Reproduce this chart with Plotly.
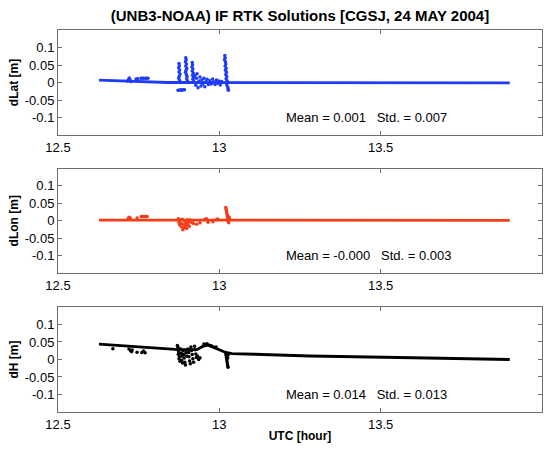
import plotly.graph_objects as go

# ---------------- data ----------------
x_ticks = [12.5, 13, 13.5, 14]
x_tick_labels = ["12.5", "13", "13.5", "14"]
y_ticks = [-0.1, -0.05, 0, 0.05, 0.1]
y_tick_labels = ["-0.1", "-0.05", "0", "0.05", "0.1"]

panel_labels = ["dLat [m]", "dLon [m]", "dH [m]"]
panel_stats = ["Mean = 0.001   Std. = 0.007",
               "Mean = -0.000   Std. = 0.003",
               "Mean = 0.014   Std. = 0.013"]

# dLat: continuous track
dlat_line_t = [12.627, 12.68, 12.72, 12.76, 12.80, 12.84, 12.868, 12.90, 12.95, 13.0, 13.04, 13.06, 13.2, 13.4, 13.6, 13.8, 13.90]
dlat_line_v = [0.007, 0.005, 0.003, 0.002, 0.001, 0.000, 0.000, 0.000, -0.001, -0.002, -0.002, -0.002, -0.002, -0.001, -0.001, -0.001, -0.001]
# dLat: scattered epochs
dlat_pts_t = [12.716, 12.719, 12.721, 12.723, 12.726, 12.742, 12.747, 12.757, 12.761, 12.765, 12.771, 12.775, 12.779,
              12.875, 12.876, 12.874, 12.877, 12.875, 12.878, 12.876, 12.874, 12.877, 12.879,
              12.872, 12.876, 12.880, 12.884, 12.888, 12.892,
              12.896, 12.897, 12.895, 12.898, 12.896, 12.899, 12.897, 12.895, 12.898, 12.900, 12.899, 12.901,
              12.916, 12.917, 12.915, 12.918, 12.916, 12.919, 12.917, 12.920, 12.918, 12.921,
              12.924, 12.927, 12.929, 12.931, 12.934, 12.937, 12.940, 12.943, 12.946, 12.949, 12.952, 12.955, 12.958, 12.962, 12.966,
              12.971, 12.975, 12.979, 12.983, 12.987, 12.991, 12.995, 12.999, 13.003, 13.007,
              13.017, 13.018, 13.016, 13.019, 13.020, 13.018, 13.021, 13.019, 13.022, 13.020, 13.023, 13.021, 13.024, 13.025, 13.023, 13.026, 13.027, 13.028]
dlat_pts_v = [0.004, 0.009, 0.013, 0.008, 0.003, 0.010, 0.011, 0.012, 0.012, 0.012, 0.012, 0.012, 0.012,
              0.054, 0.048, 0.042, 0.036, 0.030, 0.024, 0.018, 0.012, 0.006, 0.000,
              -0.022, -0.022, -0.021, -0.022, -0.021, -0.021,
              0.071, 0.065, 0.059, 0.053, 0.047, 0.041, 0.035, 0.029, 0.023, 0.017, 0.011, 0.005,
              0.057, 0.051, 0.045, 0.039, 0.033, 0.027, 0.021, 0.015, 0.009, 0.003,
              0.020, -0.008, 0.012, 0.025, -0.015, 0.004, 0.016, -0.010, 0.008, -0.004, 0.012, -0.012, 0.002, 0.009, -0.006,
              0.005, -0.004, 0.010, 0.002, -0.006, 0.007, -0.002, 0.004, -0.007, 0.003,
              0.077, 0.071, 0.065, 0.059, 0.053, 0.047, 0.041, 0.035, 0.029, 0.023, 0.017, 0.011, 0.005, -0.001, -0.007, -0.013, -0.018, -0.022]

# dLon
dlon_line_t = [12.627, 12.75, 12.87, 12.95, 13.05, 13.3, 13.6, 13.90]
dlon_line_v = [0.002, 0.002, 0.001, 0.000, 0.001, 0.001, 0.001, 0.001]
dlon_pts_t = [12.717, 12.720, 12.724, 12.745, 12.758, 12.763, 12.768, 12.772, 12.776,
              12.873, 12.875, 12.877, 12.879, 12.881, 12.883, 12.885, 12.887, 12.889, 12.891, 12.893, 12.895, 12.897, 12.899, 12.901, 12.903, 12.905, 12.907, 12.909,
              12.915, 12.920, 12.930, 12.940, 12.955, 12.960, 12.965, 12.980, 12.990, 12.995,
              13.020, 13.021, 13.022, 13.023, 13.024, 13.025, 13.026, 13.027, 13.028, 13.029, 13.026, 13.030, 13.032]
dlon_pts_v = [0.006, 0.010, 0.008, 0.008, 0.012, 0.012, 0.012, 0.012, 0.012,
              0.006, -0.004, -0.012, 0.002, -0.008, -0.018, 0.004, -0.026, -0.010, -0.020, 0.000, -0.014, -0.006, -0.022, 0.003, -0.012, -0.004, -0.016, 0.002,
              -0.005, -0.008, -0.010, -0.006, 0.004, 0.006, -0.004, -0.003, 0.003, 0.005,
              0.038, 0.033, 0.028, 0.023, 0.018, 0.013, 0.008, 0.003, -0.002, -0.006, 0.015, 0.010, 0.004]

# dH
dh_line_t = [12.627, 12.70, 12.78, 12.863, 12.93, 12.95, 12.965, 12.98, 13.00, 13.02, 13.04, 13.11, 13.28, 13.6, 13.90]
dh_line_v = [0.044, 0.040, 0.035, 0.029, 0.028, 0.038, 0.041, 0.036, 0.028, 0.020, 0.017, 0.015, 0.010, 0.005, 0.000]
dh_pts_t = [12.67, 12.72, 12.725, 12.728, 12.73, 12.745, 12.76, 12.765, 12.77,
            12.870, 12.872, 12.871, 12.874, 12.873, 12.876, 12.875, 12.878, 12.880, 12.882, 12.884, 12.883, 12.886, 12.888, 12.890, 12.891, 12.893, 12.895, 12.897, 12.899,
            12.903, 12.905, 12.906, 12.908, 12.910, 12.912, 12.914, 12.916, 12.918, 12.920, 12.923, 12.925, 12.927, 12.929, 12.932, 12.936, 12.940,
            12.952, 12.957, 12.962, 12.968, 12.973, 12.978, 12.985, 12.990,
            13.020, 13.021, 13.022, 13.023, 13.024, 13.025, 13.026, 13.027, 13.024, 13.026, 13.028]
dh_pts_v = [0.031, 0.030, 0.025, 0.022, 0.027, 0.021, 0.020, 0.024, 0.019,
            0.040, 0.035, 0.028, 0.022, 0.015, 0.008, 0.002, -0.005, 0.030, 0.018, 0.010, -0.002, -0.010, 0.025, 0.014, 0.004, -0.008, -0.016, 0.020, 0.010,
            0.030, 0.020, 0.008, -0.004, -0.012, 0.036, 0.026, 0.014, 0.002, -0.008, 0.038, 0.028, 0.016, 0.006, 0.010, 0.000, 0.005,
            0.044, 0.043, 0.045, 0.041, 0.040, 0.038, 0.034, 0.036,
            0.018, 0.012, 0.006, 0.000, -0.006, -0.012, -0.018, -0.022, 0.010, 0.004, 0.014]

series = [
    (dlat_line_t, dlat_line_v, dlat_pts_t, dlat_pts_v, "#1e3cf5"),
    (dlon_line_t, dlon_line_v, dlon_pts_t, dlon_pts_v, "#f53c19"),
    (dh_line_t, dh_line_v, dh_pts_t, dh_pts_v, "#000000"),
]

# ---------------- figure ----------------
FONT = "Arial, 'Liberation Sans', sans-serif"
AXC = "#6e6e6e"

fig = go.Figure()
domains = [[0.7251, 1.0], [0.3639, 0.6374], [0.0, 0.2749]]

for i, (lt, lv, pt, pv, col) in enumerate(series):
    ax = "" if i == 0 else str(i + 1)
    fig.add_trace(go.Scatter(x=lt, y=lv, mode="lines", line=dict(color=col, width=2.8),
                             xaxis="x" + ax, yaxis="y" + ax, showlegend=False, hoverinfo="skip"))
    fig.add_trace(go.Scatter(x=pt, y=pv, mode="markers", marker=dict(color=col, size=3.5),
                             xaxis="x" + ax, yaxis="y" + ax, showlegend=False, hoverinfo="skip"))
    common = dict(ticks="inside", ticklen=4, tickcolor=AXC, showline=True, linecolor=AXC,
                  linewidth=1, mirror="ticks", showgrid=False, zeroline=False,
                  tickfont=dict(family=FONT, size=13, color="black"))
    xa = dict(common, range=[12.5, 14], tickvals=x_ticks, ticktext=x_tick_labels,
              anchor="y" + ax, domain=[0, 1])
    if i == 2:
        xa["title"] = dict(text="<b>UTC [hour]</b>", font=dict(family=FONT, size=12, color="black"), standoff=1)
    ya = dict(common, range=[-0.15, 0.15], tickvals=y_ticks, ticktext=y_tick_labels,
              anchor="x" + ax, domain=domains[i],
              title=dict(text="<b>" + panel_labels[i] + "</b>", font=dict(family=FONT, size=12, color="black"), standoff=3))
    fig.update_layout(**{"xaxis" + ax: xa, "yaxis" + ax: ya})
    fig.add_annotation(x=13.2, y=-0.1, xref="x" + ax, yref="y" + ax, text=panel_stats[i],
                       showarrow=False, xanchor="left", yanchor="middle",
                       font=dict(family=FONT, size=13, color="black"))

fig.update_layout(
    width=548, height=449,
    margin=dict(l=58, r=6, t=30, b=37),
    paper_bgcolor="white", plot_bgcolor="white",
    title=dict(text="<b>(UNB3-NOAA) IF RTK Solutions [CGSJ, 24 MAY 2004]</b>",
               x=0.5, xref="paper", xanchor="center", y=1 - 16 / 449, yanchor="middle",
               font=dict(family=FONT, size=15, color="black")),
)

fig.write_html("out.html")
